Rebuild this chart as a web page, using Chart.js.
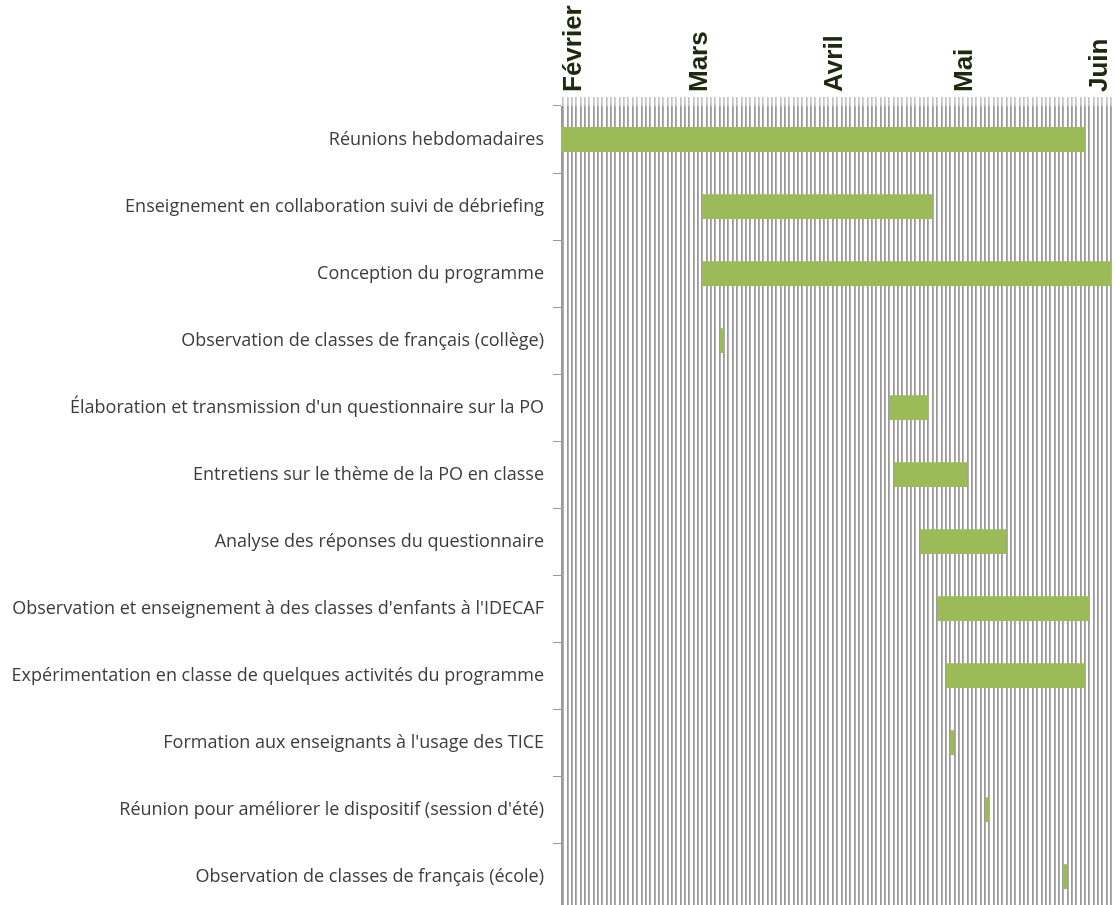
<!DOCTYPE html>
<html><head><meta charset="utf-8">
<script src="https://cdn.jsdelivr.net/npm/chart.js@4.4.0/dist/chart.umd.min.js"></script>
<style>
html,body{margin:0;padding:0;background:#fff;}
#outer{width:1116px;height:905px;overflow:hidden;position:relative;}
#wrap{width:1116px;height:930px;position:relative;}
</style></head><body>
<div id="outer"><div id="wrap"><canvas id="c"></canvas></div></div>
<script>
const categories = [
  "Réunions hebdomadaires",
  "Enseignement en collaboration suivi de débriefing",
  "Conception du programme",
  "Observation de classes de français (collège)",
  "Élaboration et transmission d'un questionnaire sur la PO",
  "Entretiens sur le thème de la PO en classe",
  "Analyse des réponses du questionnaire",
  "Observation et enseignement à des classes d'enfants à l'IDECAF",
  "Expérimentation en classe de quelques activités du programme",
  "Formation aux enseignants à l'usage des TICE",
  "Réunion pour améliorer le dispositif (session d'été)",
  "Observation de classes de français (école)"
];
const startDates = ["2016-01-29","2016-03-02","2016-03-02","2016-03-06","2016-04-14","2016-04-15","2016-04-21","2016-04-25","2016-04-27","2016-04-28","2016-05-06","2016-05-24"];
const endDates   = ["2016-05-29","2016-04-24","2016-06-05","2016-03-07","2016-04-23","2016-05-02","2016-05-11","2016-05-30","2016-05-29","2016-04-29","2016-05-07","2016-05-25"];
const monthLabels = ["Février","Mars","Avril","Mai","Juin"];
const monthDates  = ["2016-02-01","2016-03-01","2016-04-01","2016-05-01","2016-06-01"];
const axisMinDate = "2016-01-29T12:00:00";
const axisMaxDate = "2016-06-04T00:00:00";

const BASE = Date.parse("2016-02-01T00:00:00Z");
function dayOf(s){ const iso = s.length === 10 ? s + "T00:00:00Z" : s + "Z"; return (Date.parse(iso) - BASE) / 86400000; }

const monthMap = {};
monthDates.forEach((d, i) => { monthMap[dayOf(d)] = monthLabels[i]; });
const xMin = dayOf(axisMinDate), xMax = dayOf(axisMaxDate);
const gridColor = '#9a9a9a';

new Chart(document.getElementById('c'), {
  type: 'bar',
  data: {
    labels: categories,
    datasets: [{
      data: categories.map((c, i) => [dayOf(startDates[i]), dayOf(endDates[i])]),
      backgroundColor: '#9bbb59',
      borderWidth: 0,
      borderSkipped: false,
      barPercentage: 0.37,
      categoryPercentage: 1
    }]
  },
  options: {
    indexAxis: 'y',
    responsive: true,
    maintainAspectRatio: false,
    animation: false,
    layout: { padding: { left: 0, right: 5, top: 0, bottom: 11 } },
    plugins: { legend: { display: false }, tooltip: { enabled: false } },
    scales: {
      x: {
        type: 'linear',
        position: 'top',
        min: xMin,
        max: xMax,
        afterBuildTicks: (s) => {
          const t = [];
          for (let d = Math.ceil(xMin); d <= Math.floor(xMax); d++) t.push({ value: d });
          s.ticks = t;
        },
        afterFit: (s) => { s.height = 106; },
        grid: { color: gridColor, lineWidth: 1.8, drawTicks: true, tickLength: 9, tickColor: '#a8a8a8', tickWidth: 1.2 },
        border: { display: false },
        ticks: {
          autoSkip: false, minRotation: 90, maxRotation: 90, padding: 5, labelOffset: 33,
          color: '#1e2a0f',
          font: { family: "'Liberation Sans Narrow', 'Liberation Sans', sans-serif", size: 26, weight: 'bold' },
          callback: (v) => (monthMap[v] !== undefined ? monthMap[v] : '')
        }
      },
      y: {
        afterFit: (s) => { s.width = 561; },
        grid: { drawOnChartArea: false, drawTicks: true, tickLength: 8, color: gridColor, lineWidth: 1 },
        border: { display: true, color: gridColor },
        ticks: { color: '#3c3c3c', padding: 9, font: { family: "'Open Sans', sans-serif", size: 18 } }
      }
    }
  }
});
</script>
</body></html>
